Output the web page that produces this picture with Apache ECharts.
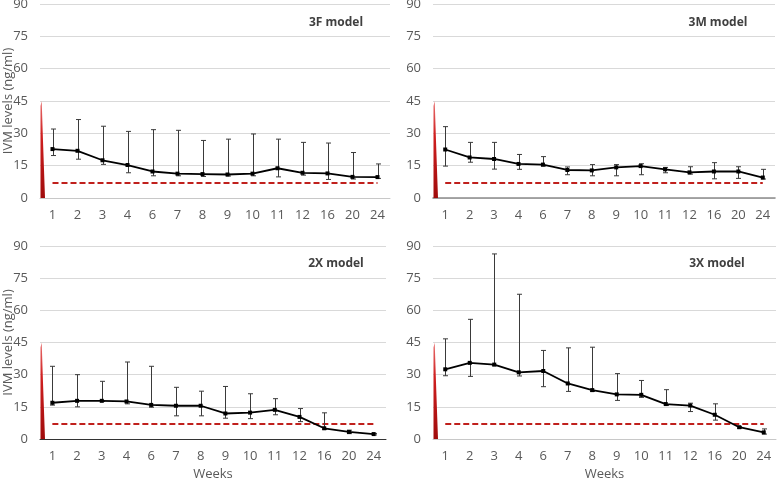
<!DOCTYPE html>
<html><head><meta charset="utf-8">
<script src="https://cdn.jsdelivr.net/npm/echarts@6/dist/echarts.min.js"></script>
<style>html,body{margin:0;padding:0;background:#fff}#c{width:777px;height:478px}</style>
</head><body><div id="c"></div>
<script>
const weeks = ['1','2','3','4','6','7','8','9','10','11','12','16','20','24'];
const yTicks = [0, 15, 30, 45, 60, 75, 90];
const threshold = 7;
const artifactTop = 45;
const titles = ['3F model', '3M model', '2X model', '3X model'];

const mean3F  = [22.7, 21.9, 17.5, 15.3, 12.3, 11.3, 11.1, 10.9, 11.3, 13.8, 11.7, 11.4, 9.8, 9.7];
const upper3F = [32.0, 36.4, 33.3, 30.9, 31.7, 31.4, 26.7, 27.3, 29.7, 27.3, 25.8, 25.5, 21.1, 15.8];
const lower3F = [19.7, 18.0, 15.6, 11.7, 10.3, 10.3, 10.0, 10.2, 10.3, 9.8, 10.6, 8.6, 8.8, 9.1];

const mean3M  = [22.5, 18.8, 18.1, 15.8, 15.5, 13.0, 12.8, 14.2, 14.8, 13.3, 11.9, 12.3, 12.3, 9.5];
const upper3M = [33.1, 25.8, 25.8, 20.2, 19.2, 14.4, 15.5, 15.5, 15.9, 14.2, 14.5, 16.4, 14.5, 13.3];
const lower3M = [14.8, 16.6, 13.4, 13.3, 14.8, 10.8, 10.3, 10.3, 10.8, 11.7, 11.1, 8.9, 9.1, 8.8];

const mean2X  = [16.9, 17.8, 17.8, 17.5, 15.9, 15.5, 15.5, 11.9, 12.3, 13.6, 10.3, 5.0, 3.3, 2.3];
const upper2X = [33.9, 30.0, 26.9, 35.9, 33.9, 24.1, 22.3, 24.5, 21.1, 18.8, 14.2, 12.2, 4.1, 2.6];
const lower2X = [15.8, 15.0, 17.5, 16.4, 14.8, 10.8, 10.8, 9.7, 9.5, 11.3, 8.1, 4.5, 2.5, 1.9];

const mean3X  = [32.5, 35.5, 34.7, 31.1, 31.7, 25.9, 22.8, 20.8, 20.6, 16.3, 15.6, 11.3, 5.5, 3.1];
const upper3X = [46.7, 55.8, 86.3, 67.5, 41.3, 42.5, 42.8, 30.5, 27.3, 23.0, 16.7, 16.4, 5.8, 4.7];
const lower3X = [29.5, 29.2, 34.2, 29.4, 24.4, 22.2, 22.2, 18.0, 19.4, 15.6, 12.8, 8.8, 5.0, 2.3];

const panels = [
  {mean: mean3F, upper: upper3F, lower: lower3F},
  {mean: mean3M, upper: upper3M, lower: lower3M},
  {mean: mean2X, upper: upper2X, lower: lower2X},
  {mean: mean3X, upper: upper3X, lower: lower3X}
];

const FONT = '"Open Sans", "Liberation Sans", sans-serif';
const grids = [
  {left: 40, top: 4, width: 350, height: 194, outerBoundsMode: 'none', containLabel: false},
  {left: 433, top: 4, width: 342, height: 194, outerBoundsMode: 'none', containLabel: false},
  {left: 40, top: 246, width: 346, height: 193, outerBoundsMode: 'none', containLabel: false},
  {left: 433, top: 246, width: 343, height: 193, outerBoundsMode: 'none', containLabel: false}
];
const axisLineStyles = [
  {color: '#c8c8c8', width: 1},
  {color: '#8c8c8c', width: 1.6},
  {color: '#333333', width: 1},
  {color: '#c8c8c8', width: 1}
];
const titlePos = [
  {left: 331, top: 12}, {left: 713, top: 12},
  {left: 331, top: 253}, {left: 712, top: 253}
];

const option = {
  animation: false,
  backgroundColor: '#ffffff',
  title: titles.map((t, i) => ({
    text: t, left: titlePos[i].left, top: titlePos[i].top, textAlign: 'center',
    textStyle: {fontFamily: FONT, fontSize: 12, fontWeight: 'bold', color: '#404040'}
  })),
  grid: grids,
  xAxis: grids.map((g, i) => ({
    type: 'category', gridIndex: i, data: weeks, boundaryGap: true,
    name: i >= 2 ? 'Weeks' : '', nameLocation: 'middle', nameGap: 29, nameMoveOverlap: false,
    nameTextStyle: {fontFamily: FONT, fontSize: 13, color: '#595959'},
    axisLine: {show: true, onZero: false, lineStyle: axisLineStyles[i]},
    axisTick: {show: false},
    axisLabel: {fontFamily: FONT, fontSize: 13, color: '#595959', margin: 11}
  })),
  yAxis: grids.map((g, i) => ({
    type: 'value', gridIndex: i, min: yTicks[0], max: yTicks[yTicks.length - 1], interval: 15,
    name: i % 2 === 0 ? 'IVM levels (ng/ml)' : '', nameLocation: 'middle', nameGap: 25, nameMoveOverlap: false,
    nameTextStyle: {fontFamily: FONT, fontSize: 13, color: '#595959'},
    axisLine: {show: false}, axisTick: {show: false},
    axisLabel: {fontFamily: FONT, fontSize: 13, color: '#595959', margin: 12},
    splitLine: {show: true, lineStyle: {color: '#d9d9d9', width: 1}}
  })),
  series: []
};

panels.forEach((p, i) => {
  // red artifact sliver at the left edge
  option.series.push({
    type: 'custom', xAxisIndex: i, yAxisIndex: i, silent: true, clip: false, z: 1,
    data: [[0, artifactTop]],
    renderItem: function (params, api) {
      const top = api.coord([api.value(0), api.value(1)]);
      const bot = api.coord([api.value(0), 0]);
      const bw = api.size([1, 0])[0];
      const l = bot[0] - bw / 2 + 0.5;
      return {
        type: 'polygon',
        shape: {points: [[l, bot[1]], [l + 4.5, bot[1]], [l + 2.5, top[1] + 40], [l + 1.2, top[1]], [l, top[1] + 5]]},
        style: {fill: new echarts.graphic.LinearGradient(0, 0, 0, 1, [
          {offset: 0, color: '#e87070'}, {offset: 0.35, color: '#d02020'}, {offset: 1, color: '#a00c0c'}
        ])}
      };
    }
  });
  // threshold line
  option.series.push({
    type: 'line', xAxisIndex: i, yAxisIndex: i, silent: true, z: 2,
    data: weeks.map(() => threshold), symbol: 'none',
    lineStyle: {color: '#c0201c', width: 2, type: [6, 3]}
  });
  // error bars
  option.series.push({
    type: 'custom', xAxisIndex: i, yAxisIndex: i, silent: true, z: 3,
    data: weeks.map((w, k) => [k, p.lower[k], p.upper[k]]),
    renderItem: function (params, api) {
      const lo = api.coord([api.value(0), api.value(1)]);
      const hi = api.coord([api.value(0), api.value(2)]);
      const x = Math.round(lo[0]) + 0.5;
      const cw = 2.5;
      const st = {stroke: '#3a3a3a', lineWidth: 1};
      return {
        type: 'group',
        children: [
          {type: 'line', shape: {x1: x, y1: lo[1], x2: x, y2: hi[1]}, style: st},
          {type: 'line', shape: {x1: x - cw, y1: hi[1], x2: x + cw, y2: hi[1]}, style: st},
          {type: 'line', shape: {x1: x - cw, y1: lo[1], x2: x + cw, y2: lo[1]}, style: st}
        ]
      };
    }
  });
  // mean line
  option.series.push({
    type: 'line', xAxisIndex: i, yAxisIndex: i, silent: true, z: 4,
    data: p.mean, symbol: 'rect', symbolSize: 4,
    itemStyle: {color: '#000000'},
    lineStyle: {color: '#000000', width: 1.8}
  });
});

const chart = echarts.init(document.getElementById('c'), null, {renderer: 'canvas'});
chart.setOption(option);
</script>
</body></html>
